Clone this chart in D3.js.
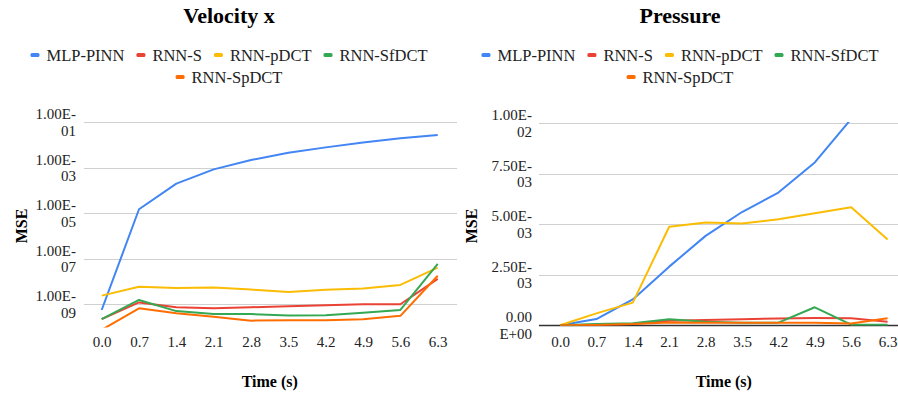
<!DOCTYPE html>
<html>
<head>
<meta charset="utf-8">
<script src="https://cdn.jsdelivr.net/npm/d3@7"></script>
<style>
  body { margin: 0; background: #fff; }
  svg text { font-family: "Liberation Serif", "Times New Roman", serif; fill: #222; }
</style>
</head>
<body>
<div id="chart"></div>
<script>
// time steps on the x axis
var times = ["0.0", "0.7", "1.4", "2.1", "2.8", "3.5", "4.2", "4.9", "5.6", "6.3"];
var seriesNames = ["MLP-PINN", "RNN-S", "RNN-pDCT", "RNN-SfDCT", "RNN-SpDCT"];
var seriesColors = ["#4285f4", "#ea4335", "#fbbc04", "#34a853", "#ff6d01"];

// Velocity x, MSE (log axis)
var velMLP    = [5.6e-10, 1.5e-5, 2.0e-4, 8.5e-4, 2.2e-3, 4.6e-3, 7.9e-3, 1.3e-2, 2.0e-2, 2.75e-2];
var velS      = [2.2e-10, 1.2e-9, 7.4e-10, 6.6e-10, 7.4e-10, 8.1e-10, 9.1e-10, 1.0e-9, 1.0e-9, 1.3e-8];
var velPDCT   = [2.4e-9, 5.9e-9, 5.2e-9, 5.4e-9, 4.4e-9, 3.5e-9, 4.3e-9, 4.9e-9, 7.1e-9, 4.1e-8];
var velSfDCT  = [2.2e-10, 1.55e-9, 5.0e-10, 3.7e-10, 3.7e-10, 3.2e-10, 3.3e-10, 4.2e-10, 5.6e-10, 5.9e-8];
var velSpDCT  = [7.5e-11, 6.6e-10, 4.0e-10, 2.8e-10, 1.9e-10, 2.0e-10, 2.0e-10, 2.2e-10, 3.1e-10, 1.8e-8];
var velTicks  = [1e-1, 1e-3, 1e-5, 1e-7, 1e-9];

// Pressure, MSE (linear axis)
var presMLP   = [0, 0.31e-3, 1.28e-3, 2.9e-3, 4.42e-3, 5.6e-3, 6.56e-3, 8.05e-3, 1.02e-2, 1.2e-2];
var presS     = [0, 0.03e-3, 0.07e-3, 0.22e-3, 0.26e-3, 0.30e-3, 0.34e-3, 0.36e-3, 0.35e-3, 0.18e-3];
var presPDCT  = [0, 0.59e-3, 1.12e-3, 4.87e-3, 5.08e-3, 5.03e-3, 5.24e-3, 5.54e-3, 5.83e-3, 4.24e-3];
var presSfDCT = [0, 0.06e-3, 0.10e-3, 0.30e-3, 0.18e-3, 0.13e-3, 0.13e-3, 0.89e-3, 0.03e-3, 0.03e-3];
var presSpDCT = [0, 0.02e-3, 0.06e-3, 0.14e-3, 0.13e-3, 0.12e-3, 0.12e-3, 0.12e-3, 0.09e-3, 0.35e-3];
var presTicks = [1e-2, 7.5e-3, 5e-3, 2.5e-3, 0];

var width = 898, height = 396;

var svg = d3.select("#chart").append("svg")
    .attr("width", width)
    .attr("height", height);

// "1.00E-01" -> ["1.00E-", "01"], "0.00E+00" -> ["0.00", "E+00"]
function sciLabel(v) {
    var parts = v.toExponential(2).toUpperCase().split("E");
    var sign = parts[1][0], n = parts[1].slice(1);
    if (n.length < 2) n = "0" + n;
    if (sign === "-") return [parts[0] + "E-", n];
    return [parts[0], "E" + sign + n];
}

function drawPanel(cfg) {
    var g = svg.append("g");

    var x = d3.scalePoint()
        .domain(times)
        .range([cfg.left, cfg.right])
        .padding(0.5);

    var y = cfg.y;

    // title
    g.append("text")
        .attr("x", cfg.center)
        .attr("y", 23)
        .attr("text-anchor", "middle")
        .attr("font-size", 22)
        .attr("font-weight", "bold")
        .style("fill", "#000")
        .text(cfg.title);

    // legend, two centred rows
    var rows = [seriesNames.slice(0, 4), seriesNames.slice(4)];
    var gap = 12;
    rows.forEach(function(names, r) {
        var row = g.append("g");
        var cx = 0;
        names.forEach(function(name) {
            var idx = seriesNames.indexOf(name);
            var item = row.append("g").attr("transform", "translate(" + cx + ",0)");
            item.append("rect")
                .attr("x", 0).attr("y", -2)
                .attr("width", 9).attr("height", 4)
                .attr("rx", 1.5)
                .attr("fill", seriesColors[idx]);
            var t = item.append("text")
                .attr("x", 16)
                .attr("dy", "0.35em")
                .attr("font-size", 16.5)
                .text(name);
            cx += 16 + t.node().getComputedTextLength() + gap;
        });
        var total = cx - gap;
        row.attr("transform", "translate(" + (cfg.center - total / 2) + "," + (55 + r * 22) + ")");
    });

    // grid lines
    g.selectAll(".grid")
        .data(cfg.ticks)
        .enter()
        .append("line")
        .attr("x1", cfg.gridLeft)
        .attr("x2", cfg.gridRight)
        .attr("y1", function(d) { return Math.round(y(d)) + 0.5; })
        .attr("y2", function(d) { return Math.round(y(d)) + 0.5; })
        .attr("stroke", function(d) { return (cfg.baseline && d === 0) ? "#333" : "#d0d0d0"; })
        .attr("stroke-width", function(d) { return (cfg.baseline && d === 0) ? 1.5 : 1; });

    // y tick labels, wrapped on two lines
    var yl = g.selectAll(".ylab")
        .data(cfg.ticks)
        .enter()
        .append("text")
        .attr("text-anchor", "end")
        .attr("font-size", 15)
        .attr("transform", function(d) { return "translate(" + cfg.labelRight + "," + y(d) + ")"; });
    yl.append("tspan")
        .attr("x", 0).attr("y", -3)
        .text(function(d) { return sciLabel(d)[0]; });
    yl.append("tspan")
        .attr("x", 0).attr("y", 13.5)
        .text(function(d) { return sciLabel(d)[1]; });

    // x tick labels
    var xAxis = g.append("g")
        .attr("transform", "translate(0," + 347 + ")")
        .call(d3.axisBottom(x).tickSize(0).tickPadding(0));
    xAxis.select(".domain").remove();
    xAxis.selectAll("text")
        .attr("dy", 0)
        .attr("y", 0)
        .attr("font-size", 15)
        .style("font-family", "\"Liberation Serif\", serif")
        .style("fill", "#222");

    // axis titles
    g.append("text")
        .attr("x", (cfg.left + cfg.right) / 2)
        .attr("y", 387)
        .attr("text-anchor", "middle")
        .attr("font-size", 16)
        .attr("font-weight", "bold")
        .style("fill", "#000")
        .text("Time (s)");

    g.append("text")
        .attr("transform", "translate(" + cfg.yTitleX + ",226) rotate(-90)")
        .attr("text-anchor", "middle")
        .attr("font-size", 16)
        .attr("font-weight", "bold")
        .style("fill", "#000")
        .text("MSE");

    // clip lines to the plot area
    var clipId = "clip-" + cfg.id;
    svg.append("clipPath")
        .attr("id", clipId)
        .append("rect")
        .attr("x", cfg.left - 5)
        .attr("y", y.range()[1] - 1)
        .attr("width", cfg.right - cfg.left + 10)
        .attr("height", y.range()[0] - y.range()[1] + 1.5);

    var line = d3.line()
        .x(function(d, i) { return x(times[i]); })
        .y(function(d) { return y(d); });

    g.append("g")
        .attr("clip-path", "url(#" + clipId + ")")
        .selectAll("path")
        .data(cfg.series)
        .enter()
        .append("path")
        .attr("d", function(d) { return line(d); })
        .attr("fill", "none")
        .attr("stroke", function(d, i) { return seriesColors[i]; })
        .attr("stroke-width", 2)
        .attr("stroke-linejoin", "round");
}

drawPanel({
    id: "vel",
    title: "Velocity x",
    center: 229,
    left: 83, right: 456.4,
    gridLeft: 84, gridRight: 457,
    labelRight: 76,
    yTitleX: 27,
    y: d3.scaleLog().domain([1e-10, 1e-1]).range([327, 122.3]),
    ticks: velTicks,
    baseline: false,
    series: [velMLP, velS, velPDCT, velSfDCT, velSpDCT]
});

drawPanel({
    id: "pres",
    title: "Pressure",
    center: 680,
    left: 541.8, right: 905.8,
    gridLeft: 539, gridRight: 898,
    labelRight: 532,
    yTitleX: 477,
    y: d3.scaleLinear().domain([0, 0.01]).range([325.3, 123]),
    ticks: presTicks,
    baseline: true,
    series: [presMLP, presS, presPDCT, presSfDCT, presSpDCT]
});
</script>
</body>
</html>
